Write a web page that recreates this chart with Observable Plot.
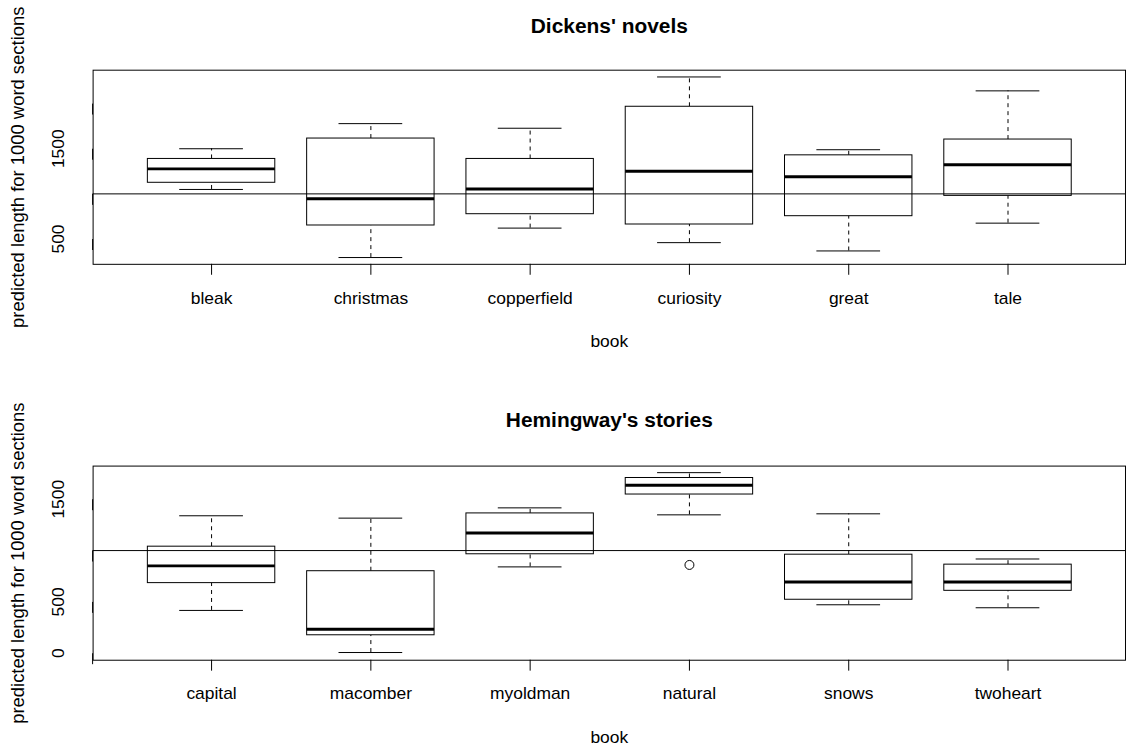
<!DOCTYPE html>
<html>
<head>
<meta charset="utf-8">
<script src="https://cdn.jsdelivr.net/npm/d3@7"></script>
<script src="https://cdn.jsdelivr.net/npm/@observablehq/plot@0.6"></script>
<style>
  html, body { margin: 0; padding: 0; background: white; overflow: hidden; }
  #chart svg { display: block; }
</style>
</head>
<body>
<div id="chart"></div>
<script>
// ---- Dickens' novels ----
const dickensBooks = ["bleak", "christmas", "copperfield", "curiosity", "great", "tale"];
const dickensLow = [1049, 295, 621, 460, 368, 676];
const dickensQ1 = [1123, 650, 775, 661, 753, 978];
const dickensMedian = [1277, 947, 1053, 1251, 1189, 1324];
const dickensQ3 = [1387, 1613, 1387, 1965, 1427, 1602];
const dickensHigh = [1500, 1778, 1727, 2295, 1489, 2141];
const dickensOutBooks = [];
const dickensOutValues = [];
const dickensTicks = [500, 1000, 1500, 2000];
const dickensTickLabels = [500, 1500];

// ---- Hemingway's stories ----
const hemBooks = ["capital", "macomber", "myoldman", "natural", "snows", "twoheart"];
const hemLow = [417, 7, 841, 1348, 472, 443];
const hemQ1 = [683, 175, 964, 1546, 521, 608];
const hemMedian = [851, 233, 1171, 1636, 695, 695];
const hemQ3 = [1038, 799, 1362, 1707, 960, 863];
const hemHigh = [1339, 1316, 1416, 1759, 1358, 918];
const hemOutBooks = ["natural"];
const hemOutValues = [860];
const hemTicks = [0, 500, 1000, 1500];
const hemTickLabels = [0, 500, 1500];

const refLine = 1000;
const yLabel = "predicted length for 1000 word sections";
const xLabel = "book";

function makeRows(books, low, q1, med, q3, high) {
  return books.map((b, i) => ({book: b, low: low[i], q1: q1[i], median: med[i], q3: q3[i], high: high[i]}));
}

function panel({title, books, rows, outliers, yDomain, ticks, tickLabels, height, marginTop, marginBottom, titleDy}) {
  return Plot.plot({
    width: 1131,
    height,
    marginLeft: 93,
    marginRight: 1,
    marginTop,
    marginBottom,
    style: {fontFamily: "'Liberation Sans', Arial, sans-serif", fontSize: "17.5px", background: "white", color: "black", overflow: "visible"},
    x: {type: "band", domain: books, range: [93, 1130], paddingInner: 0.2, paddingOuter: 0.34, align: 0.5},
    y: {domain: yDomain},
    marks: [
      Plot.ruleX(rows, {x: "book", y1: "q3", y2: "high", stroke: "black", strokeWidth: 1, strokeDasharray: "4,4"}),
      Plot.ruleX(rows, {x: "book", y1: "low", y2: "q1", stroke: "black", strokeWidth: 1, strokeDasharray: "4,4"}),
      Plot.barY(rows, {x: "book", y1: "q1", y2: "q3", fill: "white", stroke: "black", strokeWidth: 1}),
      Plot.tickY(rows, {x: "book", y: "median", stroke: "black", strokeWidth: 3}),
      Plot.tickY(rows, {x: "book", y: "high", stroke: "black", strokeWidth: 1, insetLeft: 32, insetRight: 32}),
      Plot.tickY(rows, {x: "book", y: "low", stroke: "black", strokeWidth: 1, insetLeft: 32, insetRight: 32}),
      Plot.dot(outliers, {x: "book", y: "value", r: 4.5, stroke: "black", fill: "none", strokeWidth: 1}),
      Plot.ruleY([refLine], {stroke: "black", strokeWidth: 1}),
      Plot.frame({stroke: "black", strokeWidth: 1}),
      Plot.axisX({tickSize: 11, tickPadding: 16, label: null}),
      Plot.axisY({ticks, tickFormat: d => tickLabels.includes(d) ? String(d) : "", tickSize: 11, tickPadding: 24, rotate: -90, textAnchor: "middle", label: null}),
      Plot.text([title], {frameAnchor: "top", dy: titleDy, lineAnchor: "middle", textAnchor: "middle", fontWeight: "bold", fontSize: 21}),
      Plot.text([xLabel], {frameAnchor: "bottom", dy: 77.7, lineAnchor: "middle", textAnchor: "middle"}),
      Plot.text([yLabel], {frameAnchor: "left", dx: -75, rotate: -90, lineAnchor: "middle", textAnchor: "middle", fontSize: 18.5})
    ]
  });
}

const chart = document.getElementById("chart");
chart.appendChild(panel({
  title: "Dickens' novels",
  books: dickensBooks,
  rows: makeRows(dickensBooks, dickensLow, dickensQ1, dickensMedian, dickensQ3, dickensHigh),
  outliers: dickensOutBooks.map((b, i) => ({book: b, value: dickensOutValues[i]})),
  yDomain: [220, 2370],
  ticks: dickensTicks,
  tickLabels: dickensTickLabels,
  height: 375, marginTop: 70, marginBottom: 110, titleDy: -43.7
}));
chart.appendChild(panel({
  title: "Hemingway's stories",
  books: hemBooks,
  rows: makeRows(hemBooks, hemLow, hemQ1, hemMedian, hemQ3, hemHigh),
  outliers: hemOutBooks.map((b, i) => ({book: b, value: hemOutValues[i]})),
  yDomain: [-68, 1823],
  ticks: hemTicks,
  tickLabels: hemTickLabels,
  height: 376, marginTop: 93, marginBottom: 88, titleDy: -46.1
}));
</script>
</body>
</html>
